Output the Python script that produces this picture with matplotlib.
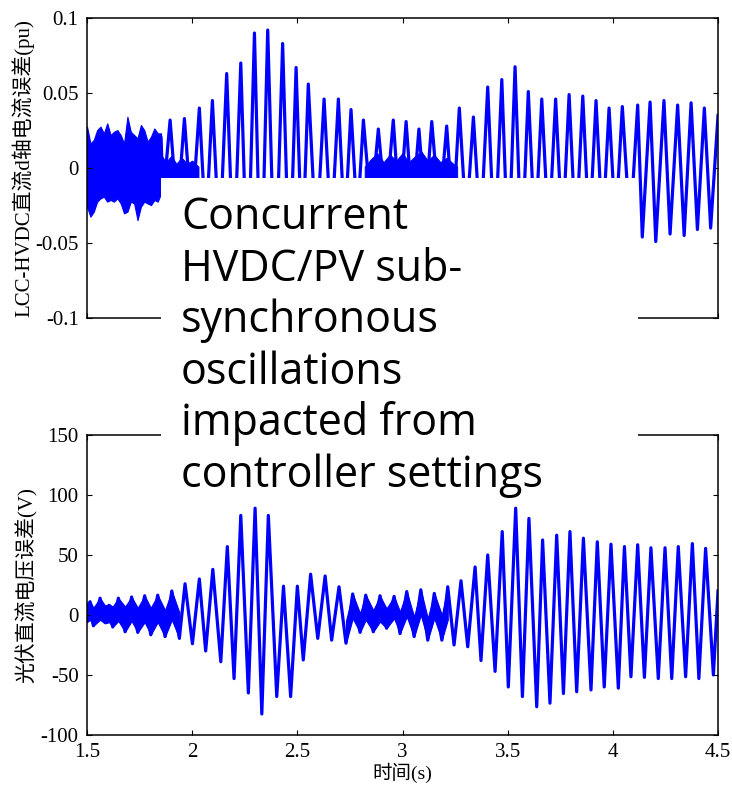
import matplotlib
matplotlib.use('Agg')
import matplotlib.pyplot as plt
from matplotlib.patches import Rectangle

# ---- LCC-HVDC d-axis current error (pu): oscillation extrema ----
top_peak_t = [1.895, 1.963, 2.034, 2.096, 2.164, 2.231, 2.296, 2.359, 2.430, 2.494,
              2.552, 2.627, 2.695, 2.755, 2.814, 2.885, 2.956, 3.017, 3.078, 3.139,
              3.210, 3.270, 3.337, 3.405, 3.472, 3.535, 3.598, 3.662, 3.728, 3.792,
              3.857, 3.920, 3.982, 4.045, 4.118, 4.177, 4.243, 4.308, 4.372, 4.435]
top_peak_v = [0.032, 0.033, 0.040, 0.045, 0.063, 0.070, 0.090, 0.092, 0.083, 0.067,
              0.056, 0.046, 0.046, 0.039, 0.032, 0.026, 0.032, 0.031, 0.026, 0.031,
              0.028, 0.040, 0.034, 0.054, 0.059, 0.0675, 0.051, 0.046, 0.046, 0.049,
              0.048, 0.045, 0.040, 0.041, 0.042, 0.044, 0.045, 0.042, 0.0435, 0.040]
top_trough_t = [1.862, 1.929, 1.998, 2.065, 2.130, 2.197, 2.263, 2.327, 2.394, 2.462,
                2.523, 2.590, 2.661, 2.725, 2.785, 2.850, 2.920, 2.986, 3.047, 3.108,
                3.175, 3.240, 3.303, 3.371, 3.438, 3.503, 3.566, 3.630, 3.695, 3.760,
                3.824, 3.888, 3.951, 4.013, 4.082, 4.140, 4.204, 4.272, 4.339, 4.402,
                4.465]
top_trough_v = [-0.020, -0.030, -0.035, -0.042, -0.052, -0.065, -0.080, -0.088, -0.085, -0.075,
                -0.060, -0.050, -0.045, -0.042, -0.035, -0.028, -0.028, -0.030, -0.028, -0.028,
                -0.030, -0.034, -0.037, -0.044, -0.055, -0.062, -0.060, -0.048, -0.046, -0.047,
                -0.048, -0.046, -0.043, -0.040, -0.042, -0.046, -0.049, -0.044, -0.045, -0.041,
                -0.040]
top_ends_t = [1.852, 4.500]
top_ends_v = [0.020, 0.035]

# noisy start of the current trace (upper / lower edge of the band)
top_noise_t = [1.500, 1.516, 1.532, 1.548, 1.564, 1.580, 1.596, 1.612, 1.628, 1.644, 1.660, 1.676,
               1.692, 1.708, 1.724, 1.740, 1.756, 1.772, 1.788, 1.804, 1.820, 1.836, 1.852]
top_noise_hi = [0.0276, 0.0164, 0.0187, 0.0253, 0.0276, 0.0231, 0.0298, 0.0220, 0.0242, 0.0253,
                0.0220, 0.0164, 0.0342, 0.0242, 0.0220, 0.0198, 0.0287, 0.0253, 0.0176, 0.0209,
                0.0264, 0.0231, 0.0231]
top_noise_lo = [-0.0258, -0.0324, -0.0291, -0.0224, -0.0202, -0.0191, -0.0224, -0.0213, -0.0224,
                -0.0202, -0.0236, -0.0302, -0.0291, -0.0224, -0.0236, -0.0347, -0.0258, -0.0224,
                -0.0236, -0.0247, -0.0213, -0.0224, -0.0169]

# high-frequency ripple sitting on zero
top_rip1_t = [1.852, 1.875, 1.900, 1.925, 1.950, 1.975, 2.000, 2.030]
top_rip1_hi = [0.009, 0.004, 0.008, 0.003, 0.007, 0.003, 0.005, 0.001]
top_rip2_t = [2.820, 2.850, 2.880, 2.910, 2.940, 2.970, 3.000, 3.030, 3.060, 3.090,
              3.120, 3.150, 3.180, 3.210, 3.240, 3.260]
top_rip2_hi = [0.001, 0.006, 0.010, 0.004, 0.009, 0.005, 0.010, 0.004, 0.008, 0.011,
               0.005, 0.009, 0.004, 0.007, 0.003, 0.001]
top_rip_lo = -0.020

# ---- PV DC voltage error (V): oscillation extrema ----
bot_peak_t = [1.514, 1.562, 1.605, 1.649, 1.712, 1.774, 1.836, 1.903, 1.966, 2.034,
              2.098, 2.167, 2.231, 2.299, 2.362, 2.434, 2.500, 2.563, 2.632, 2.698,
              2.763, 2.825, 2.893, 2.960, 3.020, 3.087, 3.151, 3.215, 3.278, 3.345,
              3.405, 3.474, 3.538, 3.601, 3.666, 3.733, 3.796, 3.860, 3.926, 3.991,
              4.055, 4.118, 4.181, 4.248, 4.311, 4.378, 4.441]
bot_peak_v = [11, 14, 8, 14, 15, 16, 16.5, 20, 26, 30,
              38, 57, 83, 89, 83, 24, 24, 34, 32.5, 23.5,
              17.5, 16.5, 16, 15.5, 19.5, 21, 18, 23.5, 28.5, 40,
              50, 69.5, 89, 80.5, 62.5, 66.5, 69.5, 64, 61, 59,
              57, 58.5, 56, 56, 57, 59.5, 55.5]
bot_trough_t = [1.530, 1.585, 1.622, 1.681, 1.741, 1.803, 1.871, 1.939, 2.001, 2.064,
                2.136, 2.199, 2.267, 2.331, 2.402, 2.468, 2.528, 2.597, 2.663, 2.731,
                2.798, 2.861, 2.924, 2.988, 3.055, 3.120, 3.187, 3.245, 3.310, 3.373,
                3.440, 3.503, 3.570, 3.638, 3.701, 3.765, 3.828, 3.896, 3.959, 4.026,
                4.086, 4.150, 4.216, 4.280, 4.346, 4.409, 4.478]
bot_trough_v = [-9, -6, -10, -14, -14.5, -16.5, -18, -19.5, -24, -30,
                -39, -53, -65, -82.5, -68, -68, -37.5, -19.5, -21, -23.5,
                -14.5, -14, -11, -15.5, -18, -21, -21, -25, -26.5, -38,
                -47, -60, -68, -76.5, -73.5, -65.5, -64, -62.5, -60, -61,
                -51.5, -52, -53, -53, -51.5, -53, -50]
bot_ends_t = [1.500, 4.500]
bot_ends_v = [6, 20]

# thick ripple bands where the slow swing is small
bot_band_t = [1.500, 1.514, 1.530, 1.562, 1.585, 1.605, 1.622, 1.649, 1.681, 1.712, 1.741,
              1.774, 1.803, 1.836, 1.871, 1.903, 1.939]
bot_band_hi = [10, 12, 6, 14, 8, 9, 7, 14, 7, 15, 6, 16, 6, 16.5, 4, 20, 2]
bot_band_lo = [-6, -4, -9, -4, -7, -6, -10, -5, -14, -5, -14.5, -6, -16.5, -6, -18, -4, -19.5]

bot_band2_t = [2.731, 2.763, 2.798, 2.825, 2.861, 2.893, 2.924, 2.960, 2.988, 3.020,
               3.055, 3.087, 3.120, 3.151, 3.187, 3.215]
bot_band2_hi = [-5, 17.5, 1.4, 16.7, 4, 15.8, 5.5, 15.3, 2.8, 19.4, -1.4, 20.8, -2.8, 18.1, 0, 23.6]
bot_band2_lo = [-23.6, -2.8, -14.5, -4, -13.9, -5.5, -11.1, -2.8, -15.3, -1.4, -18.1, 0, -20.8,
                -2.8, -20.8, -4]

x_ticks = [1.5, 2, 2.5, 3, 3.5, 4, 4.5]
x_ticklabels = ['1.5', '2', '2.5', '3', '3.5', '4', '4.5']
top_yticks = [-0.1, -0.05, 0, 0.05, 0.1]
top_yticklabels = ['-0.1', '-0.05', '0', '0.05', '0.1']
bot_yticks = [-100, -50, 0, 50, 100, 150]
bot_yticklabels = ['-100', '-50', '0', '50', '100', '150']

note_lines = ['Concurrent', 'HVDC/PV sub-', 'synchronous', 'oscillations',
              'impacted from', 'controller settings']

serif = ['Liberation Serif', 'Noto Sans CJK SC']
blue = '#0000ff'


def merged(*pairs):
    pts = []
    for ts, vs in pairs:
        pts += list(zip(ts, vs))
    pts.sort()
    return [p[0] for p in pts], [p[1] for p in pts]


def style(ax, yticks, ylabels, show_x):
    ax.set_xlim(1.5, 4.5)
    ax.set_xticks(x_ticks)
    ax.set_yticks(yticks)
    ax.set_yticklabels(ylabels, family=serif, fontsize=15)
    if show_x:
        ax.set_xticklabels(x_ticklabels, family=serif, fontsize=15)
    else:
        ax.set_xticklabels([])
    ax.tick_params(direction='in', length=3.5, width=0.8, top=True, right=True, pad=6)
    for s in ax.spines.values():
        s.set_linewidth(1.1)


fig = plt.figure(figsize=(7.32, 7.88), dpi=100)
ax1 = fig.add_axes([0.1189, 0.5964, 0.862, 0.3807])
ax2 = fig.add_axes([0.1189, 0.0673, 0.862, 0.3807])

t1, v1 = merged((top_peak_t, top_peak_v), (top_trough_t, top_trough_v), (top_ends_t, top_ends_v))
ax1.fill_between(top_noise_t, top_noise_lo, top_noise_hi, color=blue, lw=0.8)
ax1.fill_between(top_rip1_t, top_rip_lo, top_rip1_hi, color=blue, lw=0.6)
ax1.fill_between(top_rip2_t, top_rip_lo, top_rip2_hi, color=blue, lw=0.6)
ax1.plot(t1, v1, color=blue, lw=2.3)
ax1.set_ylim(-0.1, 0.1)
style(ax1, top_yticks, top_yticklabels, False)
ax1.set_ylabel('LCC-HVDC直流d轴电流误差(pu)', family=serif, fontsize=15, labelpad=1)

t2, v2 = merged((bot_peak_t, bot_peak_v), (bot_trough_t, bot_trough_v), (bot_ends_t, bot_ends_v))
ax2.fill_between(bot_band_t, bot_band_lo, bot_band_hi, color=blue, lw=0.8)
ax2.fill_between(bot_band2_t, bot_band2_lo, bot_band2_hi, color=blue, lw=0.8)
ax2.plot(t2, v2, color=blue, lw=2.3)
ax2.set_ylim(-100, 150)
style(ax2, bot_yticks, bot_yticklabels, True)
ax2.set_ylabel('光伏直流电压误差(V)', family=serif, fontsize=15, labelpad=2)
ax2.set_xlabel('时间(s)', family=serif, fontsize=14, labelpad=0)

# white note box laid over both panels
H = 788.0
W = 732.0
fig.add_artist(Rectangle((161 / W, 1 - 500 / H), (638 - 161) / W, (500 - 178) / H,
                         transform=fig.transFigure, facecolor='white', edgecolor='none', zorder=5))
for i, line in enumerate(note_lines):
    fig.text(181 / W, 1 - (229 + 51.6 * i) / H, line, family='Open Sans', fontsize=31,
             va='baseline', ha='left', zorder=6)

fig.savefig('out.png', dpi=100)
